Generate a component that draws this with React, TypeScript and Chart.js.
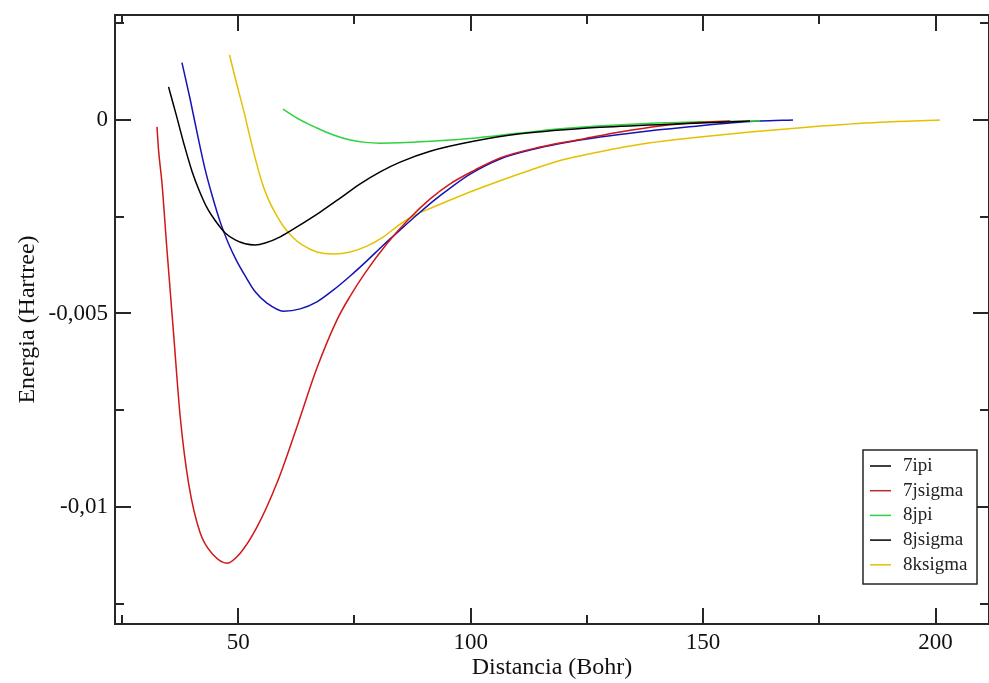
import { useEffect, useRef } from "react";
import { Chart, registerables } from "chart.js";

Chart.register(...registerables);

// ---- data ----
const seriesNames = ["7ipi", "7jsigma", "8jpi", "8jsigma", "8ksigma"];

const x7ipi = [35.02, 36.67, 38.39, 40.11, 41.83, 43.55, 45.28, 47.21, 49.36, 51.51, 53.66, 55.81, 59.04, 63.34, 67.64, 71.94, 76.24, 80.54, 84.84, 91.29, 100.32, 110.64, 127.84, 149.34, 160.1];
const y7ipi = [0.000853, 0.000129, -0.000646, -0.001344, -0.001886, -0.002326, -0.002636, -0.00292, -0.0031, -0.0032, -0.00323, -0.00318, -0.00302, -0.00271, -0.00238, -0.00202, -0.00165, -0.00134, -0.00109, -0.00081, -0.00056, -0.00036, -0.00019, -0.00008, -0.00003];

const x7jsigma = [32.53, 32.87, 33.6, 34.68, 36.09, 37.53, 39.32, 41.83, 44.69, 47.58, 50.43, 54.03, 58.33, 62.63, 66.93, 71.23, 74.09, 77.31, 81.98, 86.56, 91.29, 95.59, 100.97, 106.34, 114.94, 124.18, 132.14, 140.74, 149.34, 155.8];
const y7jsigma = [-0.00018, -0.00078, -0.00163, -0.00336, -0.0055, -0.00767, -0.00938, -0.01067, -0.01124, -0.01145, -0.01119, -0.01052, -0.00938, -0.00793, -0.00641, -0.00517, -0.00455, -0.00395, -0.0032, -0.00258, -0.00204, -0.00165, -0.00129, -0.00098, -0.0007, -0.00049, -0.00031, -0.000155, -0.000065, -0.000026];

const x8jpi = [59.62, 63.34, 66.93, 70.5, 74.09, 77.31, 80.54, 84.84, 91.29, 99.89, 110.64, 119.24, 131.49, 149.34, 162.24];
const y8jpi = [0.00028, 0.0, -0.00021, -0.00039, -0.00052, -0.00058, -0.0006, -0.00059, -0.00055, -0.00048, -0.00034, -0.00023, -0.00013, -0.00005, -0.00003];

const x8jsigma = [37.9, 39.69, 41.4, 42.91, 44.41, 46.14, 47.86, 49.58, 51.51, 53.66, 56.18, 59.75, 63.34, 66.93, 70.5, 74.09, 77.68, 81.25, 84.84, 88.49, 92.0, 95.59, 99.89, 106.34, 112.79, 119.24, 127.84, 136.44, 147.83, 155.79, 162.24, 169.34];
const y8jsigma = [0.00148, 0.00052, -0.00047, -0.00129, -0.00196, -0.00264, -0.00318, -0.00362, -0.00403, -0.00444, -0.00473, -0.00494, -0.00488, -0.0047, -0.00439, -0.00403, -0.00364, -0.00323, -0.00284, -0.00245, -0.00209, -0.00176, -0.0014, -0.00101, -0.00078, -0.00061, -0.00044, -0.00031, -0.00017, -0.00008, -0.00003, 0.0];

const x8ksigma = [48.13, 49.58, 51.14, 52.59, 53.88, 55.16, 56.45, 57.96, 59.68, 61.62, 63.77, 66.93, 70.5, 74.09, 77.68, 81.25, 84.84, 88.49, 92.0, 95.59, 100.97, 106.34, 112.79, 119.24, 127.84, 138.59, 149.34, 160.09, 172.99, 188.04, 200.94];
const y8ksigma = [0.00168, 0.00098, 0.00026, -0.00047, -0.00109, -0.00163, -0.00204, -0.0024, -0.00274, -0.00302, -0.00323, -0.00341, -0.00346, -0.00341, -0.00326, -0.00302, -0.00269, -0.00243, -0.00225, -0.00207, -0.00181, -0.00157, -0.0013, -0.00105, -0.00082, -0.00059, -0.00044, -0.00031, -0.00018, -0.00006, 0.0];

const majorXTicks = [50, 100, 150, 200];
const minorXTicks = [25, 75, 125, 175];
const majorYTicks = [0, -0.005, -0.01];
const minorYTicks = [0.0025, -0.0025, -0.0075, -0.0125];

// ---- styles ----
const lineColors = ["#000000", "#d01818", "#2ed23e", "#1414b4", "#e6c000"];
const legendColors = ["#000000", "#b03030", "#2ed23e", "#000000", "#e6c000"];
const FONT = "'Liberation Serif', 'Times New Roman', serif";

const xs = [x7ipi, x7jsigma, x8jpi, x8jsigma, x8ksigma];
const ys = [y7ipi, y7jsigma, y8jpi, y8jsigma, y8ksigma];

const frameTicksPlugin = {
  id: "frameTicks",
  afterDatasetsDraw(chart: any) {
    const { ctx, chartArea } = chart;
    const { left, right, top, bottom } = chartArea;
    const sx = chart.scales.x;
    const sy = chart.scales.y;
    const major = 16;
    const minor = 9;
    ctx.save();
    ctx.strokeStyle = "#262626";
    ctx.lineWidth = 2;
    ctx.beginPath();
    ctx.rect(left, top, right - left, bottom - top);
    ctx.stroke();
    ctx.beginPath();
    const xt = (vals: number[], len: number) => {
      vals.forEach((v) => {
        const px = Math.round(sx.getPixelForValue(v));
        ctx.moveTo(px, bottom);
        ctx.lineTo(px, bottom - len);
        ctx.moveTo(px, top);
        ctx.lineTo(px, top + len);
      });
    };
    const yt = (vals: number[], len: number) => {
      vals.forEach((v) => {
        const py = Math.round(sy.getPixelForValue(v));
        ctx.moveTo(left, py);
        ctx.lineTo(left + len, py);
        ctx.moveTo(right, py);
        ctx.lineTo(right - len, py);
      });
    };
    xt(majorXTicks, major);
    xt(minorXTicks, minor);
    yt(majorYTicks, major);
    yt(minorYTicks, minor);
    ctx.stroke();
    ctx.restore();
  },
};

const boxLegendPlugin = {
  id: "boxLegend",
  afterDraw(chart: any) {
    const { ctx, chartArea } = chart;
    const rowH = 24.7;
    const boxRight = chartArea.right - 12;
    const boxBottom = chartArea.bottom - 40;
    const boxW = 114;
    const boxH = 134;
    const boxLeft = boxRight - boxW;
    const boxTop = boxBottom - boxH;
    ctx.save();
    ctx.fillStyle = "#ffffff";
    ctx.fillRect(boxLeft, boxTop, boxW, boxH);
    ctx.strokeStyle = "#262626";
    ctx.lineWidth = 1.5;
    ctx.strokeRect(boxLeft, boxTop, boxW, boxH);
    ctx.font = `19px ${FONT}`;
    ctx.textBaseline = "middle";
    ctx.textAlign = "left";
    chart.data.datasets.forEach((ds: any, i: number) => {
      const y = boxTop + 16 + i * rowH;
      ctx.strokeStyle = legendColors[i];
      ctx.lineWidth = 1.5;
      ctx.beginPath();
      ctx.moveTo(boxLeft + 7, y);
      ctx.lineTo(boxLeft + 28, y);
      ctx.stroke();
      ctx.fillStyle = "#222222";
      ctx.fillText(ds.label, boxLeft + 40, y);
    });
    ctx.restore();
  },
};

export default function App() {
  const canvasRef = useRef<HTMLCanvasElement | null>(null);

  useEffect(() => {
    document.body.style.margin = "0";
    document.body.style.overflow = "hidden";
    const canvas = canvasRef.current;
    if (!canvas) return;

    const datasets = seriesNames.map((name, i) => ({
      label: name,
      data: xs[i].map((x, k) => ({ x, y: ys[i][k] })),
      borderColor: lineColors[i],
      backgroundColor: lineColors[i],
      borderWidth: 1.5,
      pointRadius: 0,
      fill: false,
      cubicInterpolationMode: "monotone" as const,
    }));

    const chart = new Chart(canvas, {
      type: "line",
      data: { datasets },
      options: {
        animation: false,
        responsive: false,
        devicePixelRatio: 1,
        layout: { padding: { top: 15, right: 0, left: 0, bottom: 0 } },
        plugins: {
          legend: { display: false },
          tooltip: { enabled: false },
        },
        scales: {
          x: {
            type: "linear",
            min: 23.5,
            max: 211.5,
            grid: { display: false, drawTicks: false },
            border: { display: false },
            afterBuildTicks: (s: any) => {
              s.ticks = majorXTicks.map((v) => ({ value: v }));
            },
            afterFit: (s: any) => {
              s.height = 59;
              s.paddingLeft = 0;
              s.paddingRight = 0;
            },
            ticks: {
              autoSkip: false,
              maxRotation: 0,
              padding: 5,
              color: "#111111",
              font: { family: FONT, size: 23 },
              callback: (v: any) => String(v),
            },
            title: {
              display: true,
              text: "Distancia (Bohr)",
              color: "#111111",
              font: { family: FONT, size: 24 },
              padding: { top: 0, bottom: 1 },
            },
          },
          y: {
            type: "linear",
            min: -0.01302,
            max: 0.00271,
            grid: { display: false, drawTicks: false },
            border: { display: false },
            afterBuildTicks: (s: any) => {
              s.ticks = majorYTicks.map((v) => ({ value: v }));
            },
            afterFit: (s: any) => {
              s.width = 115;
              s.paddingTop = 0;
              s.paddingBottom = 0;
            },
            ticks: {
              autoSkip: false,
              padding: 7,
              color: "#111111",
              font: { family: FONT, size: 23 },
              callback: (v: any) => (v === 0 ? "0" : String(v).replace(".", ",")),
            },
            title: {
              display: true,
              text: "Energia (Hartree)",
              color: "#111111",
              font: { family: FONT, size: 24 },
              padding: { top: 13, bottom: 0 },
            },
          },
        },
      },
      plugins: [frameTicksPlugin, boxLegendPlugin],
    });

    return () => {
      chart.destroy();
    };
  }, []);

  return (
    <div style={{ width: 989, height: 683, background: "#ffffff" }}>
      <canvas ref={canvasRef} width={989} height={683} style={{ display: "block" }} />
    </div>
  );
}
